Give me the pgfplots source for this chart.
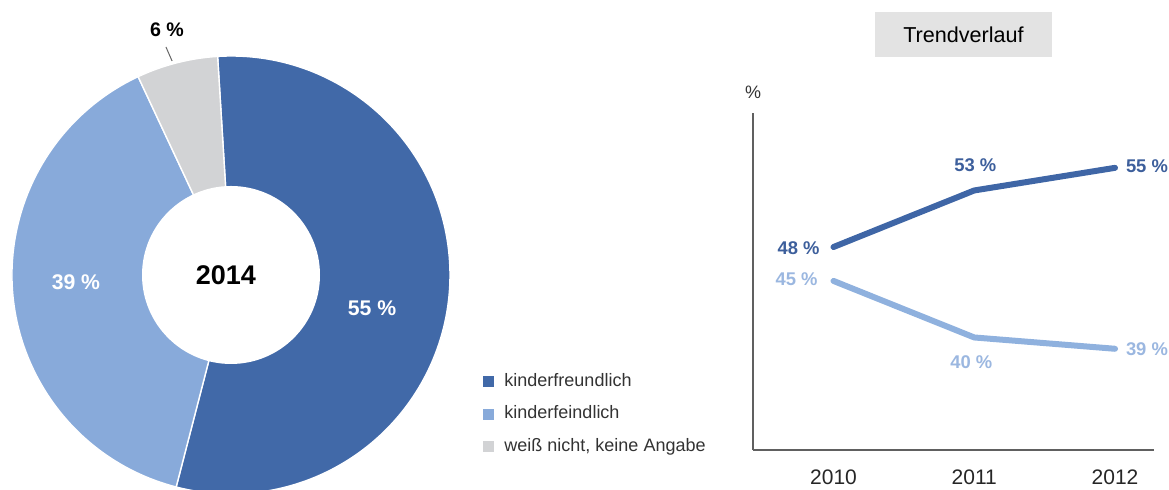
\documentclass[border=0pt]{standalone}
\usepackage{fontspec}
\setmainfont{Liberation Sans}
\usepackage{pgfplots}
\usepackage{pgfplotstable}
\pgfplotsset{compat=1.18}

\definecolor{dkblue}{HTML}{4169A8}
\definecolor{ltblue}{HTML}{88AADA}
\definecolor{ltgray}{HTML}{D2D3D5}
\definecolor{linedk}{HTML}{3F66A6}
\definecolor{linelt}{HTML}{8FB1DE}
\definecolor{labdk}{HTML}{3D5F9C}
\definecolor{lablt}{HTML}{9BB7E0}
\definecolor{axisgray}{HTML}{606060}
\definecolor{boxgray}{HTML}{E3E3E3}
\definecolor{txt}{HTML}{333333}

% donut 2014
\pgfplotstableread{
share
55
39
6
}\donutdata

% Trendverlauf (x: 0=2010, 1=2011, 2=2012)
\pgfplotstableread{
x y
0 48
1 53
2 55
}\friendly
\pgfplotstableread{
x y
0 45
1 40
2 39
}\hostile

\pgfplotsset{/pgf/number format/assume math mode=true}

\begin{document}
\begin{tikzpicture}
\useasboundingbox (0,0) rectangle (584.5pt,245pt);

\pgfplotstablegetelem{0}{share}\of\donutdata \let\va\pgfplotsretval
\pgfplotstablegetelem{1}{share}\of\donutdata \let\vb\pgfplotsretval
\pgfplotstablegetelem{2}{share}\of\donutdata \let\vc\pgfplotsretval
\pgfmathsetmacro\aA{93.5}
\pgfmathsetmacro\aB{\aA-3.6*\va}
\pgfmathsetmacro\aC{\aB-3.6*\vb}
\pgfmathsetmacro\aD{\aC-3.6*\vc}

\begin{axis}[
    scale only axis, width=219pt, height=219pt,
    at={(115.5pt,107.5pt)}, anchor=center,
    xmin=-1, xmax=1, ymin=-1, ymax=1,
    hide axis, clip=false,
    legend style={at={(axis cs:1.151,-0.447)}, anchor=north west,
        draw=none, fill=none, inner sep=0pt, row sep=7.7pt,
        font=\fontsize{9}{11}\selectfont, text=txt,
        nodes={inner sep=0pt, text height=6.6pt, text depth=1.9pt}},
    legend cell align=left,
    /tikz/every odd column/.append style={column sep=5pt},
    legend image code/.code={\fill[#1, draw=none] (0pt,-2.75pt) rectangle (5.5pt,2.75pt);},
]
\addlegendimage{fill=dkblue, draw=none}
\addlegendentry{kinderfreundlich}
\addlegendimage{fill=ltblue, draw=none}
\addlegendentry{kinderfeindlich}
\addlegendimage{fill=ltgray, draw=none}
\addlegendentry{weiß nicht, keine Angabe}

\filldraw[fill=dkblue, draw=white, line width=0.7pt] (axis cs:0,0) -- ++(\aA:109.5pt)
    arc[start angle=\aA, end angle=\aB, radius=109.5pt] -- cycle;
\filldraw[fill=ltblue, draw=white, line width=0.7pt] (axis cs:0,0) -- ++(\aB:109.5pt)
    arc[start angle=\aB, end angle=\aC, radius=109.5pt] -- cycle;
\filldraw[fill=ltgray, draw=white, line width=0.7pt] (axis cs:0,0) -- ++(\aC:109.5pt)
    arc[start angle=\aC, end angle=\aD, radius=109.5pt] -- cycle;
\fill[white] (axis cs:0,0) circle[radius=44.5pt];

\node[font=\fontsize{13.5}{15}\selectfont\bfseries] at (axis cs:-0.023,0) {2014};
\node[font=\fontsize{10.6}{12}\selectfont\bfseries, text=white] at (axis cs:0.644,-0.151) {55 \%};
\node[font=\fontsize{10.6}{12}\selectfont\bfseries, text=white] at (axis cs:-0.708,-0.032) {39 \%};
\node[font=\fontsize{9.8}{11}\selectfont\bfseries] at (axis cs:-0.292,1.119) {6 \%};
\draw[black!60, line width=0.5pt] (axis cs:-0.297,1.041) -- (axis cs:-0.269,0.977);
\end{axis}

\begin{axis}[
    scale only axis, width=200.5pt, height=168.5pt,
    at={(376.5pt,20pt)}, anchor=south west,
    xmin=-0.572, xmax=2.277, ymin=30.05, ymax=59.85,
    axis x line=bottom, axis y line=left,
    axis line style={-, draw=axisgray, line width=0.7pt},
    every outer x axis line/.append style={-},
    every outer y axis line/.append style={-},
    xtick={0,1,2}, xticklabels={2010,2011,2012},
    ytick=\empty, major tick length=0pt,
    xticklabel style={font=\fontsize{10.5}{12}\selectfont, text=black!85, yshift=-6.5pt},
    clip=false,
    nodes near coords={\pgfmathprintnumber{\pgfplotspointmeta}\ \%},
    point meta=y,
    every node near coord/.append style={inner sep=0pt,
        font=\fontsize{9.2}{11}\selectfont\bfseries},
]
\addplot[linedk, line width=3pt, line join=round, line cap=round, mark=none,
    every node near coord/.append style={text=labdk},
    coordinate style/.condition={\coordindex==0}{anchor=east, xshift=-5.5pt, yshift=-0.5pt},
    coordinate style/.condition={\coordindex==1}{anchor=south, xshift=0.5pt, yshift=7.7pt},
    coordinate style/.condition={\coordindex==2}{anchor=west, xshift=4pt, yshift=1pt},
    ]
    table[x=x, y=y] {\friendly};
\addplot[linelt, line width=3pt, line join=round, line cap=round, mark=none,
    every node near coord/.append style={text=lablt},
    coordinate style/.condition={\coordindex==0}{anchor=east, xshift=-6.5pt, yshift=1pt},
    coordinate style/.condition={\coordindex==1}{anchor=north, xshift=-1.5pt, yshift=-7.7pt},
    coordinate style/.condition={\coordindex==2}{anchor=west, xshift=4pt},
    ]
    table[x=x, y=y] {\hostile};

\node[fill=boxgray, minimum width=88.5pt, minimum height=22.5pt, inner sep=0pt,
    font=\fontsize{10.8}{13}\selectfont, yshift=39.25pt] at (rel axis cs:0.525,1) {Trendverlauf};
\node[font=\fontsize{9}{11}\selectfont, text=txt, yshift=10.5pt] at (rel axis cs:0,1) {\%};
\end{axis}
\end{tikzpicture}
\end{document}
